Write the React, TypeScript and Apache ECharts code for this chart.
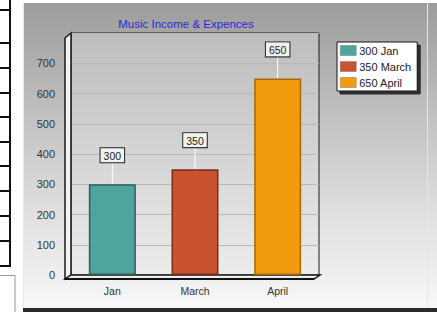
import React, { useEffect, useRef } from "react";
import * as echarts from "echarts";

const categories = ["Jan", "March", "April"];
const values = [300, 350, 650];
const legendNames = ["300 Jan", "350 March", "650 April"];
const colors = ["#4fa59e", "#c9522f", "#f09c0e"];
const borderColors = ["#2a5e59", "#7a2c16", "#a96800"];
const titleText = "Music Income & Expences";
const stripTicks = [10, 43, 68, 93, 117, 142, 166, 191, 216, 241];

export default function App() {
  const ref = useRef<HTMLDivElement>(null);
  useEffect(() => {
    document.body.style.margin = "0";
    const chart = echarts.init(ref.current!, null, { renderer: "svg" });
    const barSeries = categories.map((c, i) => ({
      type: "bar",
      name: legendNames[i],
      stack: "all",
      barWidth: 47,
      data: categories.map((_, j) => (j === i ? values[i] : "-")),
      itemStyle: { color: colors[i], borderColor: borderColors[i], borderWidth: 1.5 },
      label: {
        show: true,
        position: "top",
        distance: 22,
        formatter: "{c}",
        fontFamily: "Liberation Sans",
        fontSize: 10.5,
        color: "#222",
        backgroundColor: "#f3f3f3",
        borderColor: "#222",
        borderWidth: 1,
        padding: [2, 3, 1, 3],
      },
      z: 3,
    }));
    const stemData = categories.map((c, i) => [i, values[i]]);
    const graphics: any[] = [
      {
        type: "rect",
        z: -20,
        shape: { x: 23, y: 3, width: 414, height: 306 },
        style: {
          fill: new echarts.graphic.LinearGradient(0, 0, 0, 1, [
            { offset: 0, color: "#9c9c9c" },
            { offset: 0.6, color: "#d8d8d8" },
            { offset: 1, color: "#f8f8f8" },
          ]),
        },
      },
      { type: "rect", z: -19, shape: { x: 23, y: 308, width: 414, height: 4 }, style: { fill: "#2a2a2a" } },
      { type: "rect", z: -19, shape: { x: 23, y: 3, width: 1, height: 305 }, style: { fill: "#e8e8e8" } },
      { type: "line", z: -19, shape: { x1: 427.5, y1: 3, x2: 427.5, y2: 308 }, style: { stroke: "#e6e6e6", lineWidth: 1 } },
      { type: "line", z: -19, shape: { x1: 10, y1: 0, x2: 10, y2: 266 }, style: { stroke: "#111", lineWidth: 2 } },
      ...stripTicks.map((y) => ({
        type: "line",
        z: -19,
        shape: { x1: 0, y1: y, x2: 10, y2: y },
        style: { stroke: "#111", lineWidth: 2 },
      })),
      { type: "line", z: -19, shape: { x1: 0, y1: 266, x2: 11, y2: 266 }, style: { stroke: "#111", lineWidth: 2 } },
      { type: "rect", z: -19, shape: { x: -1, y: 275.5, width: 16, height: 40 }, style: { fill: "#fff", stroke: "#999", lineWidth: 1 } },
      {
        type: "polygon",
        z: 1,
        shape: { points: [[65, 38], [71, 33], [71, 275], [65, 279]] },
        style: { fill: "#f2f2f2", stroke: "#1a1a1a", lineWidth: 1.5 },
      },
      {
        type: "polygon",
        z: 1,
        shape: { points: [[65, 279], [71, 275], [320, 275], [314, 279]] },
        style: { fill: "#eeeeee", stroke: "#1a1a1a", lineWidth: 1.5 },
      },
      {
        type: "rect",
        z: 1,
        shape: { x: 65, y: 278, width: 249, height: 2 },
        style: { fill: "#111" },
      },
    ];
    chart.setOption({
      animation: false,
      backgroundColor: "#ffffff",
      title: {
        text: titleText,
        left: 181,
        top: 13,
        textAlign: "center",
        textStyle: { color: "#2a2ad0", fontSize: 11.5, fontWeight: "normal", fontFamily: "Liberation Sans" },
      },
      legend: {
        left: 337,
        top: 42,
        orient: "vertical",
        itemWidth: 16,
        itemHeight: 10,
        itemGap: 5,
        icon: "rect",
        padding: [3, 6, 3, 3],
        backgroundColor: "#ffffff",
        borderColor: "#111",
        borderWidth: 1,
        borderRadius: 0,
        shadowColor: "rgba(0,0,0,0.75)",
        shadowBlur: 1,
        shadowOffsetX: 3,
        shadowOffsetY: 3,
        itemStyle: { borderColor: "#777", borderWidth: 0.5 },
        textStyle: { fontSize: 11, color: "#222", fontFamily: "Liberation Sans", padding: [0, 0, 0, -2] },
        data: legendNames,
      },
      grid: {
        left: 71,
        top: 33,
        width: 248,
        height: 242,
        show: true,
        borderColor: "#1a1a1a",
        borderWidth: 1,
        backgroundColor: new echarts.graphic.LinearGradient(0, 0, 0, 1, [
          { offset: 0, color: "#bdbdbd" },
          { offset: 1, color: "#ececec" },
        ]),
      },
      xAxis: {
        type: "category",
        data: categories,
        axisLine: { show: false },
        axisTick: { show: false },
        axisLabel: { color: "#333", fontSize: 10.5, fontFamily: "Liberation Sans", margin: 10 },
        splitLine: { show: false },
      },
      yAxis: {
        type: "value",
        min: 0,
        max: 800,
        interval: 100,
        axisLine: { show: false },
        axisTick: { show: false },
        axisLabel: { color: "#333", fontSize: 11, fontFamily: "Liberation Sans", margin: 16, showMaxLabel: false },
        splitLine: { lineStyle: { color: "#b8b8b8", width: 1 } },
      },
      graphic: graphics,
      series: [
        ...barSeries,
        {
          type: "custom",
          name: "stems",
          z: 2,
          data: stemData,
          renderItem: (params: any, api: any) => {
            const p = api.coord([api.value(0), api.value(1)]);
            return {
              type: "line",
              shape: { x1: p[0], y1: p[1], x2: p[0], y2: p[1] - 22 },
              style: { stroke: "#ffffff", lineWidth: 1 },
            };
          },
        },
      ],
    } as any);
    return () => chart.dispose();
  }, []);
  return <div ref={ref} style={{ position: "fixed", left: 0, top: 0, width: 437, height: 312 }} />;
}
